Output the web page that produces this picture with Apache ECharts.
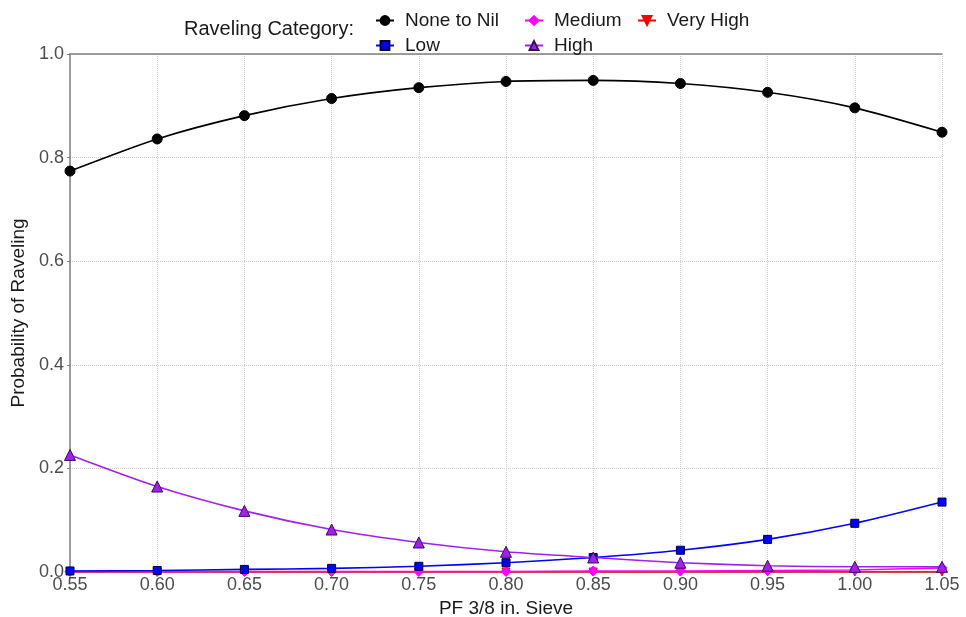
<!DOCTYPE html>
<html>
<head>
<meta charset="utf-8">
<script src="https://cdn.jsdelivr.net/npm/echarts@6/dist/echarts.min.js"></script>
<style>
html,body{margin:0;padding:0;background:#fff;}
#chart{width:966px;height:617px;}
</style>
</head>
<body>
<div id="chart"></div>
<script>
const xValues = [0.55, 0.60, 0.65, 0.70, 0.75, 0.80, 0.85, 0.90, 0.95, 1.00, 1.05];
const noneToNil = [0.774, 0.836, 0.881, 0.914, 0.935, 0.947, 0.949, 0.943, 0.926, 0.896, 0.849];
const low       = [0.002, 0.003, 0.005, 0.007, 0.011, 0.018, 0.028, 0.042, 0.063, 0.094, 0.135];
const medium    = [0.001, 0.001, 0.001, 0.001, 0.001, 0.001, 0.002, 0.002, 0.003, 0.004, 0.008];
const high      = [0.226, 0.165, 0.118, 0.082, 0.057, 0.039, 0.028, 0.018, 0.012, 0.010, 0.010];
const veryHigh  = [0.000, 0.000, 0.000, 0.000, 0.000, 0.000, 0.000, 0.000, 0.000, 0.000, 0.000];
const seriesNames = ['None to Nil', 'Low', 'Medium', 'High', 'Very High'];
const legendTitle = 'Raveling Category:';
const xTitle = 'PF 3/8 in. Sieve';
const yTitle = 'Probability of Raveling';

const FONT = '"Liberation Sans", Arial, sans-serif';
const pair = arr => xValues.map((x, i) => [x, arr[i]]);

const styles = [
  {data: noneToNil, color: '#000000', symbol: 'circle', size: 10, border: '#000000', z: 6},
  {data: low, color: '#0000FF', symbol: 'rect', size: 8, border: '#000033', z: 4},
  {data: medium, color: '#FF00FF', symbol: 'diamond', size: 10, border: '#FF00FF', z: 3},
  {data: high, color: '#A020F0', symbol: 'triangle', size: 11, border: '#3a0a5a', z: 5},
  {data: veryHigh, color: '#FF0000', symbol: 'path://M0,0 L10,0 L5,9 Z', size: 8, border: '#FF0000', z: 1}
];

const series = styles.map((s, i) => ({
  name: seriesNames[i],
  type: 'line',
  data: pair(s.data),
  smooth: 0.25,
  symbol: s.symbol,
  symbolSize: s.size,
  lineStyle: {color: s.color, width: 1.6},
  itemStyle: {color: s.color, borderColor: s.border, borderWidth: 1},
  z: s.z
}));

const legendPos = [
  {name: 'None to Nil', left: 370, top: 6},
  {name: 'Low', left: 370, top: 31},
  {name: 'Medium', left: 519, top: 6},
  {name: 'High', left: 519, top: 31},
  {name: 'Very High', left: 632, top: 6}
];
const legends = legendPos.map(l => ({
  data: [l.name],
  left: l.left,
  top: l.top,
  itemWidth: 18,
  itemHeight: 11,
  selectedMode: false,
  textStyle: {fontFamily: FONT, fontSize: 19, color: '#1a1a1a', padding: [0, 0, 0, 6]}
}));

const chart = echarts.init(document.getElementById('chart'));
chart.setOption({
  animation: false,
  backgroundColor: '#ffffff',
  title: {
    text: legendTitle,
    left: 184,
    top: 19,
    textStyle: {fontFamily: FONT, fontSize: 20, fontWeight: 'normal', color: '#1a1a1a'},
    padding: 0
  },
  legend: legends,
  grid: {left: 70, right: 24, top: 54, bottom: 45, containLabel: false, outerBoundsMode: 'none'},
  xAxis: [{
    type: 'value',
    min: 0.55,
    max: 1.05,
    interval: 0.05,
    name: xTitle,
    nameLocation: 'middle',
    nameGap: 24,
    nameTextStyle: {fontFamily: FONT, fontSize: 19, color: '#1a1a1a'},
    axisLine: {show: true, lineStyle: {color: '#7f7f7f', width: 1.5}},
    axisTick: {show: true, length: 3, lineStyle: {color: '#7f7f7f'}},
    axisLabel: {formatter: v => v.toFixed(2), fontFamily: FONT, fontSize: 18, color: '#4d4d4d', margin: 4},
    splitLine: {show: true, lineStyle: {color: '#cccccc', type: 'dotted', width: 1}}
  }, {
    type: 'value',
    position: 'top',
    min: 0.55,
    max: 1.05,
    interval: 0.05,
    axisLine: {show: true, onZero: false, lineStyle: {color: '#7f7f7f', width: 1.5}},
    axisTick: {show: false},
    axisLabel: {show: false},
    splitLine: {show: false}
  }],
  yAxis: {
    type: 'value',
    min: 0,
    max: 1,
    interval: 0.2,
    name: yTitle,
    nameLocation: 'middle',
    nameGap: 37,
    nameRotate: 90,
    nameTextStyle: {fontFamily: FONT, fontSize: 19, color: '#1a1a1a'},
    axisLine: {show: true, lineStyle: {color: '#7f7f7f', width: 1.5}},
    axisTick: {show: true, length: 3, lineStyle: {color: '#7f7f7f'}},
    axisLabel: {formatter: v => v.toFixed(1), fontFamily: FONT, fontSize: 18, color: '#4d4d4d', margin: 6},
    splitLine: {show: true, lineStyle: {color: '#cccccc', type: 'dotted', width: 1}}
  },
  series: series
});
</script>
</body>
</html>
